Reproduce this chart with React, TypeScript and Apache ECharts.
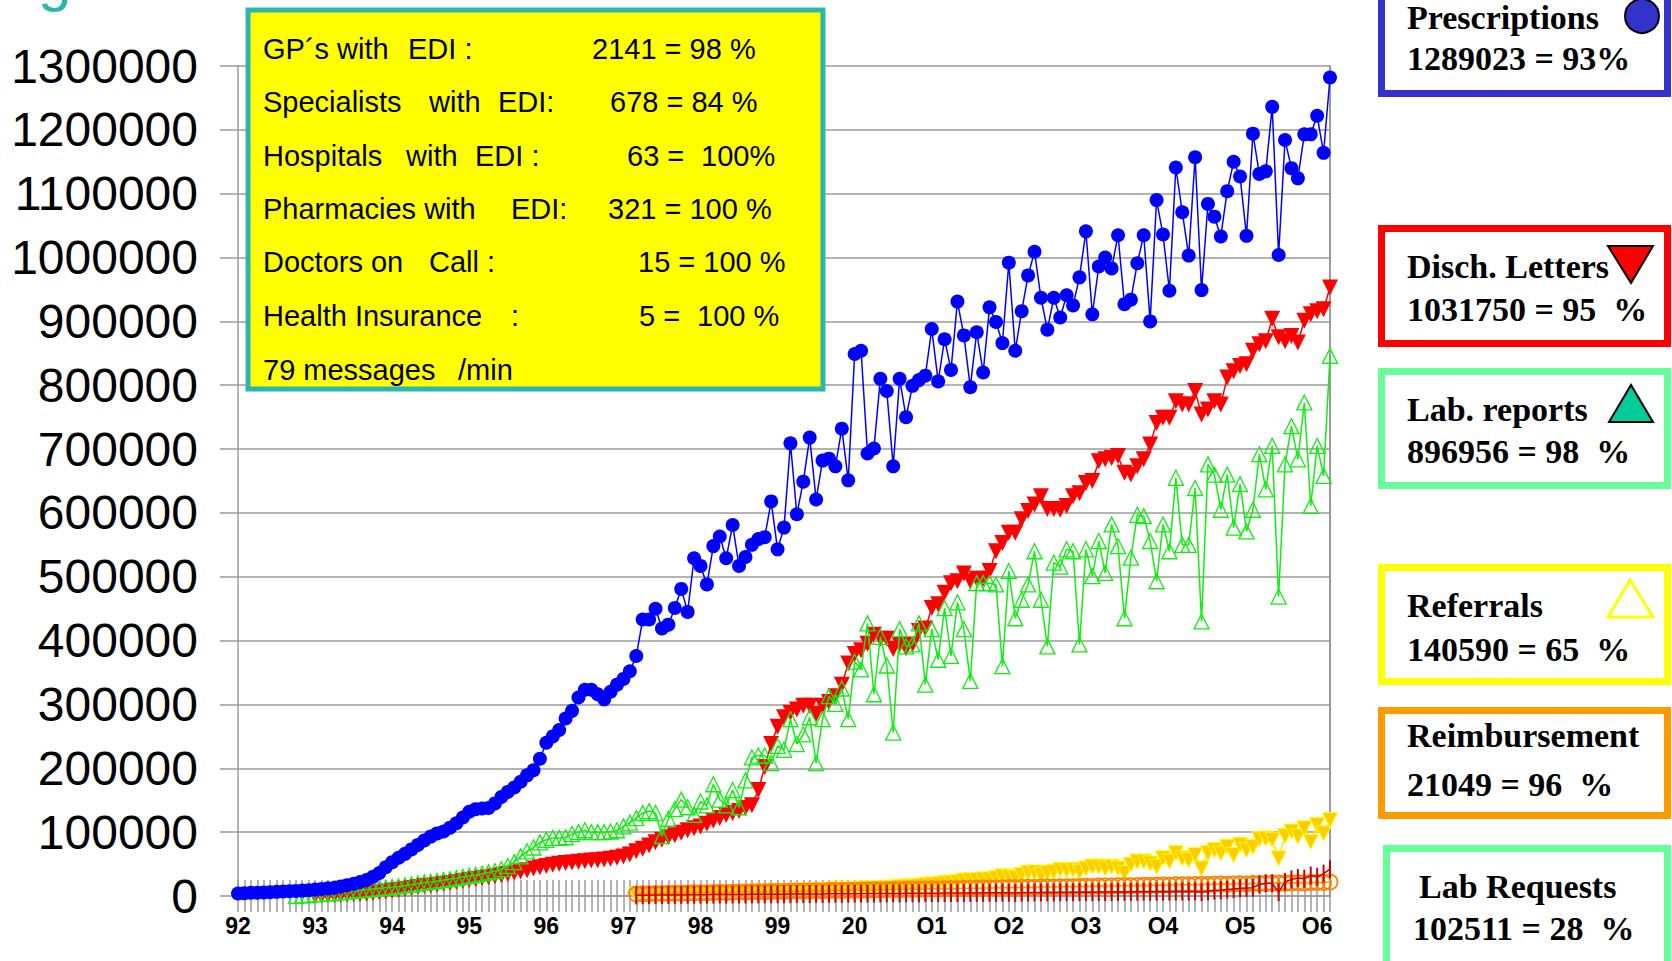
import React, { useEffect, useRef } from "react";
import * as echarts from "echarts";

// ---------- axis labels ----------
const yearLabels = ["92", "93", "94", "95", "96", "97", "98", "99", "20", "O1", "O2", "O3", "O4", "O5", "O6"];
const monthCount = 171; // Jan 1992 .. Mar 2006
const months: string[] = [];
for (let i = 0; i < monthCount; i++) months.push(`${yearLabels[Math.floor(i / 12)]}-${(i % 12) + 1}`);

const yMax = 1300000;
const yStep = 100000;

const pad = (n: number, arr: number[]) => [...Array(n).fill(null), ...arr];

// ---------- series values (monthly) ----------
const prescriptions = [
  4000, 4500, 5000, 5000, 5500, 6000, 6500, 7000, 7500, 8000,
  8500, 9000, 10000, 11000, 12000, 13000, 15000, 17000, 19000, 22000,
  25000, 30000, 36000, 45000, 53000, 60000, 66000, 73000, 80000, 87000,
  93000, 98000, 101000, 107000, 114000, 123000, 132000, 136000, 137000, 138000,
  145000, 155000, 163000, 170000, 179000, 189000, 197000, 215000, 240000, 250000,
  260000, 278000, 290000, 311000, 323000, 323000, 316000, 308000, 320000, 331000,
  340000, 352000, 376000, 433000, 433000, 450000, 419000, 425000, 451000, 481000,
  445000, 529000, 517000, 488000, 548000, 563000, 529000, 581000, 517000, 531000,
  550000, 559000, 562000, 618000, 543000, 577000, 709000, 598000, 649000, 718000,
  621000, 682000, 685000, 673000, 732000, 651000, 849000, 854000, 693000, 701000,
  810000, 791000, 673000, 810000, 750000, 799000, 808000, 815000, 888000, 806000,
  872000, 824000, 931000, 878000, 797000, 883000, 820000, 922000, 899000, 866000,
  992000, 854000, 916000, 972000, 1009000, 937000, 887000, 937000, 906000, 941000,
  925000, 969000, 1041000, 911000, 986000, 1000000, 983000, 1035000, 927000, 934000,
  991000, 1035000, 900000, 1090000, 1036000, 948000, 1141000, 1071000, 1003000, 1157000,
  949000, 1084000, 1064000, 1033000, 1104000, 1150000, 1127000, 1034000, 1194000, 1131000,
  1135000, 1236000, 1004000, 1184000, 1140000, 1124000, 1193000, 1193000, 1222000, 1164000, 1282000,
];

const dischLetters = pad(12, [
  500, 800, 1000, 1300, 1700, 2200, 2700, 3200,
  3700, 4800, 6000, 7200, 8500, 9500, 11000, 12500, 14000, 15500,
  16500, 17500, 19000, 20500, 22000, 23500, 25000, 26500, 28000, 29500,
  31000, 32500, 34500, 36500, 38500, 40500, 43000, 45000, 47000, 49000,
  50500, 51500, 52500, 53500, 54500, 55500, 56000, 57000, 58500, 60000,
  62000, 65000, 70000, 74000, 79000, 84000, 88000, 92000, 95000, 99000,
  103000, 106000, 109000, 113000, 118000, 122000, 127000, 130000, 133000, 138000,
  142000, 166000, 202000, 238000, 265000, 280000, 287000, 292000, 298000, 298000,
  285000, 298000, 304000, 313000, 331000, 364000, 379000, 385000, 395000, 409000,
  403000, 403000, 387000, 394000, 388000, 394000, 415000, 419000, 451000, 457000,
  475000, 490000, 493000, 505000, 493000, 497000, 497000, 509000, 540000, 553000,
  569000, 569000, 590000, 603000, 613000, 626000, 606000, 606000, 605000, 611000,
  626000, 631000, 647000, 650000, 681000, 684000, 686000, 689000, 663000, 660000,
  673000, 684000, 707000, 741000, 749000, 749000, 775000, 770000, 770000, 791000,
  754000, 762000, 775000, 770000, 812000, 822000, 830000, 833000, 854000, 864000,
  869000, 904000, 875000, 869000, 877000, 867000, 901000, 911000, 916000, 919000, 953000,
]);

const labReports = pad(9, [
  0, 1000, 1500,
  2500, 3200, 4000, 4700, 5800, 6900, 8000, 9000,
  10000, 11000, 12000, 13000, 14000, 15000, 16500, 18000, 19500, 21000,
  22000, 23500, 25000, 26500, 28000, 30000, 31500, 33000, 35000, 37000,
  39000, 42000, 47000, 53000, 62000, 70000, 76000, 84000, 88000, 91000,
  91000, 92000, 97000, 100000, 103000, 100000, 100000, 100000, 101000, 103000,
  109000, 115000, 122000, 130000, 133000, 130000, 94000, 121000, 136000, 151000,
  139000, 127000, 148000, 142000, 175000, 151000, 142000, 166000, 139000, 181000,
  217000, 220000, 220000, 208000, 235000, 229000, 277000, 238000, 253000, 280000,
  208000, 277000, 313000, 301000, 325000, 277000, 367000, 355000, 427000, 316000,
  406000, 361000, 256000, 418000, 391000, 394000, 427000, 331000, 418000, 370000,
  451000, 376000, 460000, 418000, 337000, 490000, 490000, 490000, 488000, 360000,
  509000, 435000, 464000, 488000, 540000, 464000, 391000, 522000, 516000, 543000,
  540000, 394000, 543000, 501000, 556000, 506000, 582000, 548000, 435000, 530000,
  597000, 595000, 556000, 493000, 582000, 540000, 655000, 550000, 550000, 639000,
  430000, 676000, 660000, 605000, 660000, 577000, 645000, 571000, 605000, 692000,
  637000, 705000, 469000, 676000, 736000, 684000, 773000, 611000, 705000, 658000, 846000,
]);

const referrals = pad(62, [
  2000, 2500, 2500, 3000, 3000, 3500, 3500, 4000,
  4000, 4500, 4500, 5000, 5000, 5500, 5500, 6000, 6000, 6500,
  6500, 7000, 7000, 7500, 7500, 8000, 8000, 8500, 9000, 9000,
  9500, 9500, 10000, 10500, 10000, 11000, 11000, 11500, 12000, 12000,
  12000, 13000, 13000, 14000, 15000, 15000, 16000, 17000, 18000, 19000,
  20000, 21000, 22000, 24000, 25000, 25000, 26000, 26000, 28000, 31000,
  30000, 29000, 33000, 36000, 37000, 33000, 36000, 38000, 41000, 40000,
  41000, 38000, 43000, 46000, 46000, 43000, 46000, 43000, 36000, 49000,
  54000, 54000, 51000, 46000, 59000, 54000, 67000, 59000, 56000, 64000,
  43000, 67000, 72000, 67000, 77000, 64000, 80000, 72000, 77000, 89000,
  90000, 88000, 59000, 94000, 101000, 93000, 106000, 85000, 111000, 98000, 119000,
]);

const reimbursement = pad(62, [
  3000, 3500, 3500, 4000, 3800, 4200, 4500, 4300,
  4800, 5000, 5200, 5000, 5500, 5800, 5600, 6000, 6300, 6100,
  6500, 6800, 6600, 7000, 7200, 7000, 7500, 7800, 7600, 8000,
  8200, 8000, 8500, 8700, 8500, 9000, 9200, 9000, 9500, 9700,
  9500, 10000, 10200, 10000, 10500, 10700, 10500, 11000, 11200, 11000,
  11500, 11700, 11500, 12000, 12200, 12000, 12500, 12700, 12500, 13000,
  13200, 13000, 13500, 13700, 13500, 14000, 14200, 14000, 14500, 14700,
  14500, 15000, 15200, 15000, 15500, 15700, 15500, 16000, 16200, 16000,
  16500, 16700, 16500, 17000, 17200, 17000, 17500, 17700, 17500, 18000,
  18200, 18000, 18500, 18700, 18500, 19000, 19200, 19000, 19500, 19700,
  19500, 20000, 20200, 20000, 20500, 20700, 20500, 21000, 21200, 21000, 22000,
]);

const labRequests = pad(62, [
  1000, 1200, 1300, 1500, 1400, 1600, 1800, 1700,
  1900, 2000, 2100, 2000, 2200, 2300, 2200, 2400, 2500, 2400,
  2600, 2700, 2600, 2800, 2900, 2800, 3000, 3100, 3000, 3200,
  3300, 3200, 3400, 3500, 3400, 3600, 3700, 3600, 3800, 3900,
  3800, 4000, 4100, 4000, 4200, 4300, 4200, 4400, 4500, 4400,
  4600, 4700, 4600, 4800, 4900, 4800, 5000, 5100, 5000, 5200,
  5300, 4500, 5400, 5500, 5400, 5600, 5700, 5600, 5800, 5900,
  5800, 6000, 6100, 6000, 6200, 6300, 6200, 6400, 6500, 6400,
  6600, 6700, 6600, 6800, 6900, 6800, 7000, 7100, 7000, 7200,
  6000, 7400, 8500, 9000, 10000, 11000, 12000, 12500, 13000, 18000,
  20000, 20000, 6000, 22000, 26000, 28000, 27000, 32000, 30000, 35000, 42000,
]);

// ---------- texts ----------
const infoLines = [
  { y: 49, parts: [["GP´s with", 263], ["EDI :", 408], ["2141 = 98 %", 592]] },
  { y: 102, parts: [["Specialists", 263], ["with", 429], ["EDI:", 498], ["678 = 84 %", 610]] },
  { y: 156, parts: [["Hospitals", 263], ["with", 406], ["EDI :", 475], ["63 =", 627], ["100%", 701]] },
  { y: 209, parts: [["Pharmacies with", 263], ["EDI:", 511], ["321 = 100 %", 608]] },
  { y: 262, parts: [["Doctors on", 263], ["Call :", 429], ["15 = 100 %", 638]] },
  { y: 316, parts: [["Health Insurance", 263], [":", 511], ["5 =", 639], ["100 %", 697]] },
  { y: 370, parts: [["79 messages", 263], ["/min", 458]] },
];

const legendBoxes = [
  { color: "#3333cc", x: 1381.5, y: -20, w: 286, h: 113.5, lines: [["Prescriptions", 1407, 17], ["1289023 = 93%", 1407, 58.6]] },
  { color: "#ff0000", x: 1381.5, y: 228.5, w: 286, h: 115, lines: [["Disch. Letters", 1407, 266.6], ["1031750 = 95  %", 1407, 309.2]] },
  { color: "#66ff99", x: 1381.5, y: 371.5, w: 286, h: 114, lines: [["Lab. reports", 1407, 409.5], ["896956 = 98  %", 1407, 451]] },
  { color: "#ffff00", x: 1381.5, y: 567.5, w: 286, h: 114, lines: [["Referrals", 1407, 605.7], ["140590 = 65  %", 1407, 649.4]] },
  { color: "#ff9900", x: 1381.5, y: 710.5, w: 286, h: 105, lines: [["Reimbursement", 1407, 735.7], ["21049 = 96  %", 1407, 784.8]] },
  { color: "#66ff99", x: 1386.5, y: 848.5, w: 281, h: 130, lines: [["Lab Requests", 1419, 886], ["102511 = 28  %", 1413, 928.7]] },
];

function buildGraphics() {
  const g: any[] = [];
  g.push({
    type: "text", x: 38, y: -21, z: 100,
    style: { text: "g", fontSize: 60, fontFamily: "Liberation Sans", fill: "#2ab5b0", verticalAlign: "middle" },
  });
  g.push({
    type: "rect", z: 100,
    shape: { x: 248, y: 10, width: 575, height: 379 },
    style: { fill: "#ffff00", stroke: "#2fb5b0", lineWidth: 5 },
  });
  infoLines.forEach((ln) => {
    ln.parts.forEach(([t, x]) => {
      g.push({
        type: "text", z: 101, x: x as number, y: ln.y,
        style: { text: t as string, fontSize: 29, fontFamily: "Liberation Sans", fill: "#000", verticalAlign: "middle" },
      });
    });
  });
  legendBoxes.forEach((b) => {
    g.push({
      type: "rect", z: 100,
      shape: { x: b.x, y: b.y, width: b.w, height: b.h },
      style: { fill: "#fff", stroke: b.color, lineWidth: 7 },
    });
    b.lines.forEach(([t, x, y]) => {
      g.push({
        type: "text", z: 101, x: x as number, y: y as number,
        style: { text: t as string, fontSize: 34, fontWeight: "bold", fontFamily: "Liberation Serif", fill: "#000", verticalAlign: "middle" },
      });
    });
  });
  g.push({ type: "circle", z: 102, shape: { cx: 1642, cy: 16, r: 17 }, style: { fill: "#3333cc", stroke: "#000", lineWidth: 2 } });
  g.push({ type: "polygon", z: 102, shape: { points: [[1608, 246], [1653, 246], [1631, 283]] }, style: { fill: "#ff0000", stroke: "#000", lineWidth: 2 } });
  g.push({ type: "polygon", z: 102, shape: { points: [[1609, 422], [1653, 422], [1631, 385]] }, style: { fill: "#00cc99", stroke: "#000", lineWidth: 2 } });
  g.push({ type: "polygon", z: 102, shape: { points: [[1608, 617], [1653, 617], [1630, 580]] }, style: { fill: "none", stroke: "#ffff00", lineWidth: 3 } });
  return g;
}

const gray = "#9a9a9a";

export default function App() {
  const ref = useRef<HTMLDivElement>(null);
  useEffect(() => {
    const chart = echarts.init(ref.current!, null, { renderer: "svg" });
    const option: any = {
      animation: false,
      backgroundColor: "#fff",
      grid: { left: 238, right: 342, top: 66, bottom: 65, containLabel: false, outerBoundsMode: "none" },
      xAxis: [
        {
          type: "category",
          data: months,
          boundaryGap: false,
          position: "bottom",
          axisLine: { show: true, lineStyle: { color: gray, width: 1.5 } },
          axisTick: { show: true, interval: 0, length: 16, lineStyle: { color: gray, width: 1.5 } },
          axisLabel: {
            interval: (i: number) => i % 12 === 0,
            formatter: (v: string) => v.split("-")[0],
            fontSize: 23,
            fontWeight: "bold",
            fontFamily: "Liberation Sans",
            color: "#000",
            margin: 18,
          },
          splitLine: { show: false },
        },
        {
          type: "category",
          data: months,
          boundaryGap: false,
          position: "bottom",
          axisLine: { show: false },
          axisTick: { show: true, inside: true, interval: 0, length: 16, lineStyle: { color: gray, width: 1.5 } },
          axisLabel: { show: false },
          splitLine: { show: false },
        },
      ],
      yAxis: [
        {
          type: "value",
          min: 0,
          max: yMax,
          interval: yStep,
          axisLine: { show: true, lineStyle: { color: gray, width: 1.5 } },
          axisTick: { show: true, length: 18, lineStyle: { color: gray, width: 1.5 } },
          axisLabel: {
            fontSize: 48, fontFamily: "Liberation Sans", color: "#000", margin: 40,
            formatter: (v: number) => String(v),
          },
          splitLine: { show: true, lineStyle: { color: gray, width: 1.5 } },
        },
        {
          type: "value",
          min: 0,
          max: yMax,
          interval: yStep,
          position: "right",
          axisLine: { show: true, lineStyle: { color: gray, width: 2 } },
          axisTick: { show: false },
          axisLabel: { show: false },
          splitLine: { show: false },
        },
      ],
      series: [
        {
          name: "Referrals", type: "line", data: referrals, z: 2,
          symbol: "triangle", symbolRotate: 180, symbolSize: 15, showAllSymbol: true,
          itemStyle: { color: "#ffcc00", borderColor: "#ffff00", borderWidth: 1 },
          lineStyle: { color: "#ffee00", width: 1.5 },
        },
        {
          name: "Reimbursement", type: "line", data: reimbursement, z: 3,
          symbol: "circle", symbolSize: 15, showAllSymbol: true,
          itemStyle: { color: "rgba(0,0,0,0)", borderColor: "#ff8000", borderWidth: 1.8 },
          lineStyle: { color: "#ff9900", width: 1.5 },
        },
        {
          name: "Lab Requests", type: "line", data: labRequests, z: 4,
          symbol: "rect", symbolSize: [2, 18], showAllSymbol: true,
          itemStyle: { color: "#cc0000" },
          lineStyle: { color: "#cc0000", width: 1.5 },
        },
        {
          name: "Disch. Letters", type: "line", data: dischLetters, z: 5,
          symbol: "triangle", symbolRotate: 180, symbolSize: 16, showAllSymbol: true,
          itemStyle: { color: "#ff0000" },
          lineStyle: { color: "#ff0000", width: 1.5 },
        },
        {
          name: "Lab. reports", type: "line", data: labReports, z: 6,
          symbol: "triangle", symbolSize: 15, showAllSymbol: true,
          itemStyle: { color: "rgba(0,0,0,0)", borderColor: "#11ee11", borderWidth: 1.3 },
          lineStyle: { color: "#11ee11", width: 1.5 },
        },
        {
          name: "Prescriptions", type: "line", data: prescriptions, z: 7,
          symbol: "circle", symbolSize: 14, showAllSymbol: true,
          itemStyle: { color: "#0000ff" },
          lineStyle: { color: "#0000ff", width: 1.5 },
        },
      ],
      graphic: buildGraphics(),
    };
    chart.setOption(option);
    return () => chart.dispose();
  }, []);
  return (
    <div
      ref={ref}
      style={{ position: "fixed", left: 0, top: 0, width: "1672px", height: "961px", background: "#fff" }}
    />
  );
}
